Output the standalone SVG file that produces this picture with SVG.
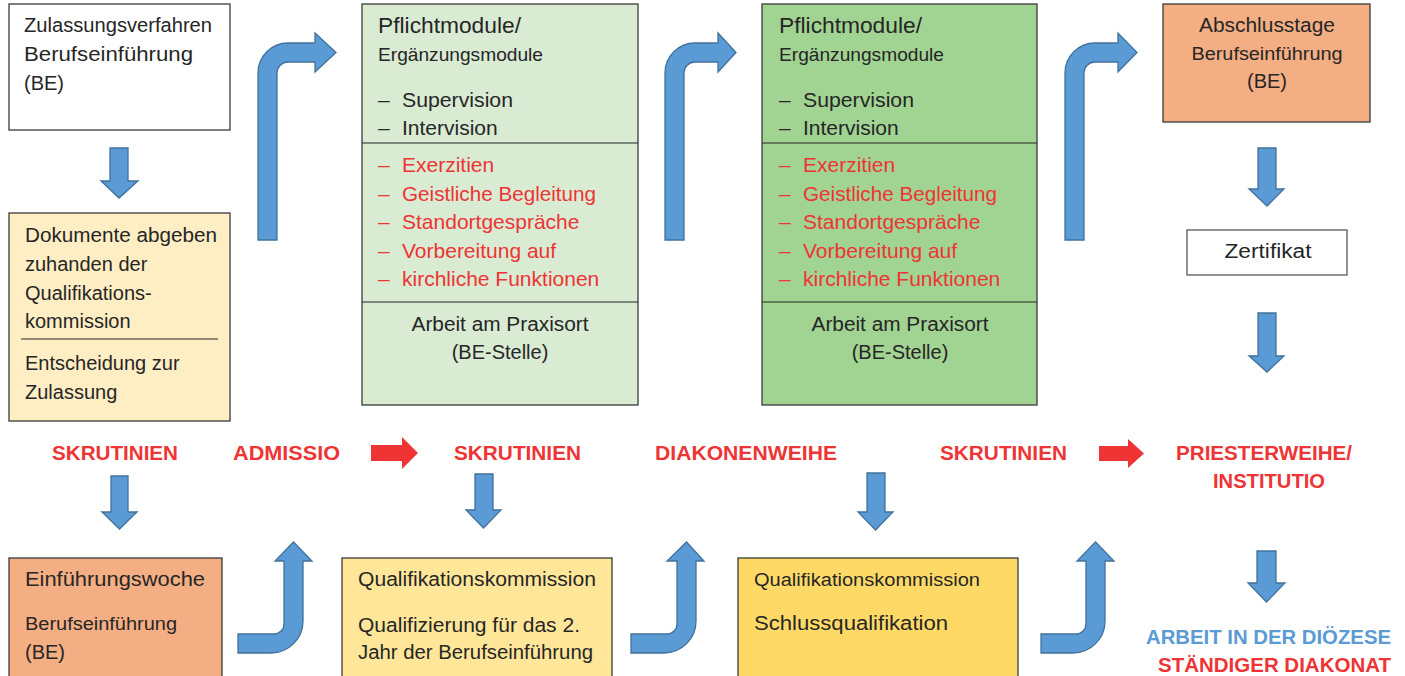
<svg xmlns="http://www.w3.org/2000/svg" width="1405" height="676" viewBox="0 0 1405 676">
<style>
  .box { stroke: #3a3a3a; stroke-width: 1.3; }
  .t { font-family: "Liberation Sans", Arial, sans-serif; font-size: 20px; fill: #262626; }
  .r { fill: #EE3434; }
  .lbl { font-family: "Liberation Sans", Arial, sans-serif; font-size: 20px; font-weight: bold; fill: #EE3434; }
  .blue { fill: #5B9BD5; }
  .arr { fill: #5B9BD5; stroke: #41719C; stroke-width: 1.3; stroke-linejoin: miter; }
  .red { fill: #EE3434; }
  .sep { stroke: #262626; stroke-width: 1.2; }
  .c { text-anchor: middle; }
</style>
<rect width="1405" height="676" fill="#ffffff"/>

<g id="zulassungsverfahren">
  <rect class="box" x="9" y="4" width="221" height="126" fill="#ffffff"/>
  <text class="t" x="24" y="32" textLength="188" lengthAdjust="spacingAndGlyphs">Zulassungsverfahren</text>
  <text class="t" x="24" y="61" textLength="169" lengthAdjust="spacingAndGlyphs">Berufseinführung</text>
  <text class="t" x="24" y="90">(BE)</text>
</g>

<g id="dokumente">
  <rect class="box" x="9" y="213" width="221" height="208" fill="#FFEEC4"/>
  <text class="t" x="25" y="242" textLength="192" lengthAdjust="spacingAndGlyphs">Dokumente abgeben</text>
  <text class="t" x="25" y="271">zuhanden der</text>
  <text class="t" x="25" y="300">Qualifikations-</text>
  <text class="t" x="25" y="328">kommission</text>
  <line class="sep" x1="21" y1="339" x2="218" y2="339"/>
  <text class="t" x="25" y="370">Entscheidung zur</text>
  <text class="t" x="25" y="399">Zulassung</text>
</g>

<g id="module1">
  <rect class="box" x="362" y="4" width="276" height="401" fill="#D9EBD3"/>
  <line class="sep" x1="362" y1="143" x2="638" y2="143"/>
  <line class="sep" x1="362" y1="302" x2="638" y2="302"/>
  <text class="t" x="378" y="33" style="font-size:22px" textLength="143" lengthAdjust="spacingAndGlyphs">Pflichtmodule/</text>
  <text class="t" x="378" y="61" style="font-size:19px" textLength="165" lengthAdjust="spacingAndGlyphs">Ergänzungsmodule</text>
  <text class="t" x="378" y="107" style="font-size:21px">–</text>
  <text class="t" x="402" y="107" style="font-size:21px" textLength="111" lengthAdjust="spacingAndGlyphs">Supervision</text>
  <text class="t" x="378" y="135" style="font-size:21px">–</text>
  <text class="t" x="402" y="135" style="font-size:21px">Intervision</text>
  <text class="t r" x="378" y="172" style="font-size:21px">–</text>
  <text class="t r" x="402" y="172" style="font-size:21px">Exerzitien</text>
  <text class="t r" x="378" y="201" style="font-size:21px">–</text>
  <text class="t r" x="402" y="201" style="font-size:21px" textLength="194" lengthAdjust="spacingAndGlyphs">Geistliche Begleitung</text>
  <text class="t r" x="378" y="229" style="font-size:21px">–</text>
  <text class="t r" x="402" y="229" style="font-size:21px">Standortgespräche</text>
  <text class="t r" x="378" y="258" style="font-size:21px">–</text>
  <text class="t r" x="402" y="258" style="font-size:21px">Vorbereitung auf</text>
  <text class="t r" x="378" y="286" style="font-size:21px">–</text>
  <text class="t r" x="402" y="286" style="font-size:21px">kirchliche Funktionen</text>
  <text class="t c" x="500" y="331" textLength="177" lengthAdjust="spacingAndGlyphs">Arbeit am Praxisort</text>
  <text class="t c" x="500" y="359">(BE-Stelle)</text>
</g>

<g id="module2">
  <rect class="box" x="762" y="4" width="275" height="401" fill="#A1D392"/>
  <line class="sep" x1="762" y1="143" x2="1037" y2="143"/>
  <line class="sep" x1="762" y1="302" x2="1037" y2="302"/>
  <text class="t" x="779" y="33" style="font-size:22px" textLength="143" lengthAdjust="spacingAndGlyphs">Pflichtmodule/</text>
  <text class="t" x="779" y="61" style="font-size:19px" textLength="165" lengthAdjust="spacingAndGlyphs">Ergänzungsmodule</text>
  <text class="t" x="779" y="107" style="font-size:21px">–</text>
  <text class="t" x="803" y="107" style="font-size:21px" textLength="111" lengthAdjust="spacingAndGlyphs">Supervision</text>
  <text class="t" x="779" y="135" style="font-size:21px">–</text>
  <text class="t" x="803" y="135" style="font-size:21px">Intervision</text>
  <text class="t r" x="779" y="172" style="font-size:21px">–</text>
  <text class="t r" x="803" y="172" style="font-size:21px">Exerzitien</text>
  <text class="t r" x="779" y="201" style="font-size:21px">–</text>
  <text class="t r" x="803" y="201" style="font-size:21px" textLength="194" lengthAdjust="spacingAndGlyphs">Geistliche Begleitung</text>
  <text class="t r" x="779" y="229" style="font-size:21px">–</text>
  <text class="t r" x="803" y="229" style="font-size:21px">Standortgespräche</text>
  <text class="t r" x="779" y="258" style="font-size:21px">–</text>
  <text class="t r" x="803" y="258" style="font-size:21px">Vorbereitung auf</text>
  <text class="t r" x="779" y="286" style="font-size:21px">–</text>
  <text class="t r" x="803" y="286" style="font-size:21px">kirchliche Funktionen</text>
  <text class="t c" x="900" y="331" textLength="177" lengthAdjust="spacingAndGlyphs">Arbeit am Praxisort</text>
  <text class="t c" x="900" y="359">(BE-Stelle)</text>
</g>

<g id="abschlusstage">
  <rect class="box" x="1163" y="4" width="207" height="118" fill="#F4AE83"/>
  <text class="t c" x="1267" y="32" textLength="136" lengthAdjust="spacingAndGlyphs">Abschlusstage</text>
  <text class="t c" x="1267" y="60" style="font-size:18px" textLength="151" lengthAdjust="spacingAndGlyphs">Berufseinführung</text>
  <text class="t c" x="1267" y="88">(BE)</text>
</g>

<g id="zertifikat">
  <rect class="box" x="1187" y="230" width="160" height="45" fill="#ffffff" style="stroke:#595959"/>
  <text class="t c" x="1268" y="258" textLength="87" lengthAdjust="spacingAndGlyphs">Zertifikat</text>
</g>

<g id="einfuehrungswoche">
  <rect class="box" x="9" y="558" width="213" height="130" fill="#F4AE83"/>
  <text class="t" x="25" y="586" textLength="180" lengthAdjust="spacingAndGlyphs">Einführungswoche</text>
  <text class="t" x="25" y="630" style="font-size:18px" textLength="152" lengthAdjust="spacingAndGlyphs">Berufseinführung</text>
  <text class="t" x="25" y="659">(BE)</text>
</g>

<g id="qualifikation1">
  <rect class="box" x="342" y="558" width="270" height="130" fill="#FFE699"/>
  <text class="t" x="358" y="586" textLength="238" lengthAdjust="spacingAndGlyphs">Qualifikationskommission</text>
  <text class="t" x="358" y="632" textLength="222" lengthAdjust="spacingAndGlyphs">Qualifizierung für das 2.</text>
  <text class="t" x="358" y="659" textLength="235" lengthAdjust="spacingAndGlyphs">Jahr der Berufseinführung</text>
</g>

<g id="qualifikation2">
  <rect class="box" x="738" y="558" width="280" height="130" fill="#FFD966"/>
  <text class="t" x="754" y="586" style="font-size:18px" textLength="226" lengthAdjust="spacingAndGlyphs">Qualifikationskommission</text>
  <text class="t" x="754" y="630" textLength="194" lengthAdjust="spacingAndGlyphs">Schlussqualifikation</text>
</g>

<g id="labels">
  <text class="lbl" x="52" y="460" textLength="126" lengthAdjust="spacingAndGlyphs">SKRUTINIEN</text>
  <text class="lbl" x="233" y="460" textLength="107" lengthAdjust="spacingAndGlyphs">ADMISSIO</text>
  <text class="lbl" x="454" y="460" textLength="127" lengthAdjust="spacingAndGlyphs">SKRUTINIEN</text>
  <text class="lbl" x="655" y="460" textLength="182" lengthAdjust="spacingAndGlyphs">DIAKONENWEIHE</text>
  <text class="lbl" x="940" y="460" textLength="127" lengthAdjust="spacingAndGlyphs">SKRUTINIEN</text>
  <text class="lbl" x="1176" y="460" textLength="176" lengthAdjust="spacingAndGlyphs">PRIESTERWEIHE/</text>
  <text class="lbl" x="1213" y="488" textLength="112" lengthAdjust="spacingAndGlyphs">INSTITUTIO</text>
  <text class="lbl blue" x="1146" y="644" textLength="245" lengthAdjust="spacingAndGlyphs">ARBEIT IN DER DIÖZESE</text>
  <text class="lbl" x="1158" y="672" textLength="233" lengthAdjust="spacingAndGlyphs">STÄNDIGER DIAKONAT</text>
</g>

<g id="connectors">
  <!-- bent arrows up-right -->
  <path class="arr" d="M258,240 L258,73 A30,30 0 0 1 288,43 L315,43 L315,33 L336,52.5 L315,72 L315,62 L288,62 A11,11 0 0 0 277,73 L277,240 Z"/>
  <path class="arr" d="M665,240 L665,73 A30,30 0 0 1 695,43 L718,43 L718,33 L736,52.5 L718,72 L718,62 L695,62 A11,11 0 0 0 684,73 L684,240 Z"/>
  <path class="arr" d="M1065,240 L1065,73 A30,30 0 0 1 1095,43 L1118,43 L1118,33 L1137,52.5 L1118,72 L1118,62 L1095,62 A11,11 0 0 0 1084,73 L1084,240 Z"/>
  <!-- J arrows up -->
  <path class="arr" d="M238,634 L274,634 A10,10 0 0 0 284,624 L284,561 L275,561 L293.5,542 L312,561 L303,561 L303,621 A32,32 0 0 1 271,653 L238,653 Z"/>
  <path class="arr" d="M631,634 L667,634 A10,10 0 0 0 677,624 L677,561 L667,561 L686.5,542 L704,561 L696,561 L696,621 A32,32 0 0 1 664,653 L631,653 Z"/>
  <path class="arr" d="M1041,634 L1076,634 A10,10 0 0 0 1086,624 L1086,561 L1077,561 L1095.5,542 L1114,561 L1105,561 L1105,621 A32,32 0 0 1 1073,653 L1041,653 Z"/>
  <!-- down arrows -->
  <path class="arr" d="M110,148 L128,148 L128,181 L138,181 L119,198 L101,181 L110,181 Z"/>
  <path class="arr" d="M111,476 L128,476 L128,512 L137,512 L119.5,529 L102,512 L111,512 Z"/>
  <path class="arr" d="M475,474 L493,474 L493,510 L501,510 L483.5,528 L466,510 L475,510 Z"/>
  <path class="arr" d="M867,473 L885,473 L885,512 L893,512 L875.5,530 L858,512 L867,512 Z"/>
  <path class="arr" d="M1258,148 L1276,148 L1276,189 L1284,189 L1267,206 L1249,189 L1258,189 Z"/>
  <path class="arr" d="M1258,313 L1276,313 L1276,356 L1284,356 L1267,372 L1249,356 L1258,356 Z"/>
  <path class="arr" d="M1257,551 L1276,551 L1276,583 L1285,583 L1266.5,602 L1248,583 L1257,583 Z"/>
  <!-- red arrows -->
  <path class="red" d="M371,445 L402,445 L402,437 L418,453 L402,469 L402,461 L371,461 Z"/>
  <path class="red" d="M1099,446 L1128,446 L1128,439 L1144,453.5 L1128,468 L1128,461 L1099,461 Z"/>
</g>
</svg>
